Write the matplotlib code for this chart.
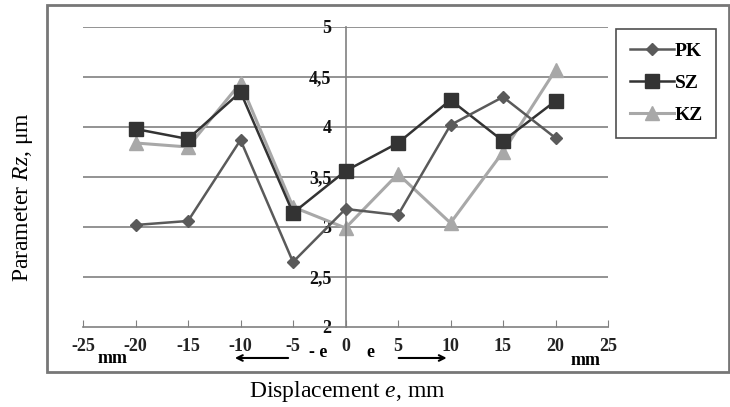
import matplotlib
matplotlib.use('Agg')
import matplotlib.pyplot as plt
from matplotlib.patches import Rectangle

plt.rcParams['font.family'] = ['Liberation Serif', 'DejaVu Serif']
plt.rcParams['mathtext.fontset'] = 'custom'
plt.rcParams['mathtext.rm'] = 'Liberation Serif'
plt.rcParams['mathtext.it'] = 'Liberation Serif:italic'

# displacement e, mm
e_vals = [-20, -15, -10, -5, 0, 5, 10, 15, 20]
# Rz, um
pk = [3.02, 3.06, 3.87, 2.65, 3.18, 3.12, 4.02, 4.30, 3.89]
sz = [3.98, 3.88, 4.35, 3.14, 3.56, 3.84, 4.27, 3.86, 4.26]
kz = [3.84, 3.80, 4.44, 3.20, 2.99, 3.53, 3.04, 3.75, 4.57]

x_ticks = [-25, -20, -15, -10, -5, 0, 5, 10, 15, 20, 25]
y_ticks = [2, 2.5, 3, 3.5, 4, 4.5, 5]
y_labels = ['2', '2,5', '3', '3,5', '4', '4,5', '5']

fig = plt.figure(figsize=(7.3, 4.07), dpi=100)

# outer frame round the chart
fig.patches.append(Rectangle((0.064, 0.086), 0.934, 0.902, transform=fig.transFigure,
                             fill=False, edgecolor='#777777', linewidth=2))

ax = fig.add_axes([0.1137, 0.1966, 0.7192, 0.7371])
ax.set_xlim(-25, 25)
ax.set_ylim(2, 5)

for y in y_ticks[1:]:
    ax.axhline(y, color='#808080', linewidth=1.2, zorder=1)

ax.spines['top'].set_visible(False)
ax.spines['right'].set_visible(False)
ax.spines['left'].set_position(('data', 0))
ax.spines['bottom'].set_position(('data', 2))
for s in ('left', 'bottom'):
    ax.spines[s].set_color('#808080')
    ax.spines[s].set_linewidth(1.2)

ax.set_xticks(x_ticks)
ax.set_xticklabels([str(v) for v in x_ticks], fontsize=13, fontweight='bold', color='#222222')
ax.set_yticks(y_ticks)
ax.set_yticklabels(y_labels, fontsize=13, fontweight='bold', color='#111111')
ax.tick_params(axis='x', direction='in', length=5, color='#808080', pad=8)
ax.tick_params(axis='y', length=0, pad=10)

ax.plot(e_vals, pk, color='#5a5a5a', linewidth=1.8, marker='D', markersize=6, label='PK', zorder=4)
ax.plot(e_vals, sz, color='#333333', linewidth=1.8, marker='s', markersize=10, label='SZ', zorder=3)
ax.plot(e_vals, kz, color='#a8a8a8', linewidth=2.2, marker='^', markersize=10, label='KZ', zorder=2)

leg = ax.legend(loc='upper left', bbox_to_anchor=(0.997, 1.027), frameon=True, fancybox=False,
                edgecolor='#222222', prop={'size': 14, 'weight': 'bold'},
                handlelength=2.3, handletextpad=0.0, borderpad=0.7, labelspacing=0.75)
leg.get_frame().set_linewidth(1.2)

# stray labels on the axis from the source figure
lab_kw = dict(transform=ax.transData, fontsize=13, fontweight='bold', ha='center', va='center', clip_on=False)
ax.text(-22.2, 1.68, 'mm', **lab_kw)
ax.text(22.9, 1.66, 'mm', **lab_kw)
ax.text(-2.6, 1.74, '- e', **lab_kw)
ax.text(2.4, 1.74, 'e', **lab_kw)
ax.annotate('', xy=(-10.8, 1.69), xytext=(-5.2, 1.69), xycoords='data',
            arrowprops=dict(arrowstyle='->', color='black', lw=1.5), annotation_clip=False)
ax.annotate('', xy=(9.9, 1.69), xytext=(4.8, 1.69), xycoords='data',
            arrowprops=dict(arrowstyle='->', color='black', lw=1.5), annotation_clip=False)

fig.text(0.475, 0.039, 'Displacement $\\mathit{e}$, mm', fontsize=17, ha='center', va='center')
fig.text(0.031, 0.516, 'Parameter $\\mathit{Rz}$, μm', fontsize=17, rotation=90, ha='center', va='center')

fig.savefig('out.png', dpi=100)
